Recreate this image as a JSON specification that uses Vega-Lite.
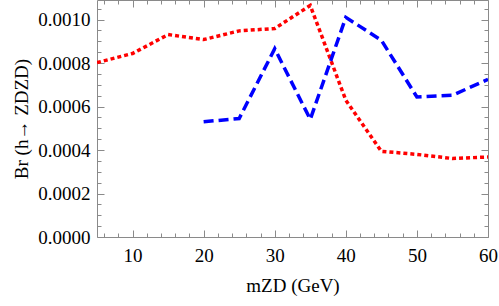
{
  "$schema": "https://vega.github.io/schema/vega-lite/v6.json",
  "width": 391,
  "height": 237,
  "autosize": {"type": "none"},
  "padding": {"left": 97, "top": 0, "right": 11, "bottom": 69},
  "background": "white",
  "config": {
    "view": {"stroke": null},
    "font": "Times New Roman, Liberation Serif, DejaVu Serif, serif",
    "axis": {
      "grid": false,
      "domainColor": "#8a8a8a",
      "tickColor": "#8a8a8a",
      "labelFont": "Times New Roman, Liberation Serif, DejaVu Serif, serif",
      "titleFont": "Times New Roman, Liberation Serif, DejaVu Serif, serif",
      "labelFontSize": 19,
      "titleFontSize": 19,
      "labelColor": "black",
      "titleColor": "black",
      "titleFontWeight": "normal",
      "labelOverlap": false,
      "labelFlush": false
    }
  },
  "datasets": {
    "red": [
      {"m": 5, "br": 0.000802},
      {"m": 10, "br": 0.000844},
      {"m": 15, "br": 0.000931},
      {"m": 20, "br": 0.000908},
      {"m": 25, "br": 0.000948},
      {"m": 30, "br": 0.000959},
      {"m": 35, "br": 0.001065},
      {"m": 40, "br": 0.000629},
      {"m": 45, "br": 0.000394},
      {"m": 50, "br": 0.000380},
      {"m": 55, "br": 0.000361},
      {"m": 60, "br": 0.000368}
    ],
    "blue": [
      {"m": 20, "br": 0.000530},
      {"m": 25, "br": 0.000545},
      {"m": 30, "br": 0.000866},
      {"m": 35, "br": 0.000541},
      {"m": 40, "br": 0.001010},
      {"m": 45, "br": 0.000905},
      {"m": 50, "br": 0.000644},
      {"m": 55, "br": 0.000652},
      {"m": 60, "br": 0.000725}
    ]
  },
  "layer": [
    {
      "data": {"name": "red"},
      "mark": {"type": "line", "color": "#ff0000", "strokeWidth": 3.5, "strokeDash": [4, 3], "clip": true},
      "encoding": {
        "x": {
          "field": "m", "type": "quantitative",
          "scale": {"domain": [5, 60], "nice": false, "zero": false},
          "axis": {
            "orient": "bottom",
            "title": "mZD (GeV)",
            "titlePadding": 8,
            "values": [6,8,10,12,14,16,18,20,22,24,26,28,30,32,34,36,38,40,42,44,46,48,50,52,54,56,58,60],
            "labelExpr": "datum.value % 10 === 0 ? datum.label : ''",
            "tickSize": {"condition": {"test": "datum.value % 10 === 0", "value": -7}, "value": -4},
            "labelPadding": 16
          }
        },
        "y": {
          "field": "br", "type": "quantitative",
          "scale": {"domain": [0, 0.00109], "nice": false},
          "axis": {
            "orient": "left",
            "title": "Br (h→ ZDZD)",
            "titlePadding": 6,
            "format": ".4f",
            "values": [0,0.00005,0.0001,0.00015,0.0002,0.00025,0.0003,0.00035,0.0004,0.00045,0.0005,0.00055,0.0006,0.00065,0.0007,0.00075,0.0008,0.00085,0.0009,0.00095,0.001,0.00105],
            "labelExpr": "round(datum.value*20000) % 4 === 0 ? datum.label : ''",
            "tickSize": {"condition": {"test": "round(datum.value*20000) % 4 === 0", "value": -7}, "value": -4},
            "labelPadding": 14
          }
        }
      }
    },
    {
      "data": {"name": "blue"},
      "mark": {"type": "line", "color": "#0000ff", "strokeWidth": 3.5, "strokeDash": [10, 5], "clip": true},
      "encoding": {
        "x": {
          "field": "m", "type": "quantitative",
          "axis": {
            "orient": "top",
            "title": null,
            "labels": false,
            "values": [6,8,10,12,14,16,18,20,22,24,26,28,30,32,34,36,38,40,42,44,46,48,50,52,54,56,58,60],
            "tickSize": {"condition": {"test": "datum.value % 10 === 0", "value": -7}, "value": -4}
          }
        },
        "y": {
          "field": "br", "type": "quantitative",
          "axis": {
            "orient": "right",
            "title": null,
            "labels": false,
            "values": [0,0.00005,0.0001,0.00015,0.0002,0.00025,0.0003,0.00035,0.0004,0.00045,0.0005,0.00055,0.0006,0.00065,0.0007,0.00075,0.0008,0.00085,0.0009,0.00095,0.001,0.00105],
            "tickSize": {"condition": {"test": "round(datum.value*20000) % 4 === 0", "value": -7}, "value": -4}
          }
        }
      }
    }
  ],
  "resolve": {"axis": {"x": "independent", "y": "independent"}}
}
